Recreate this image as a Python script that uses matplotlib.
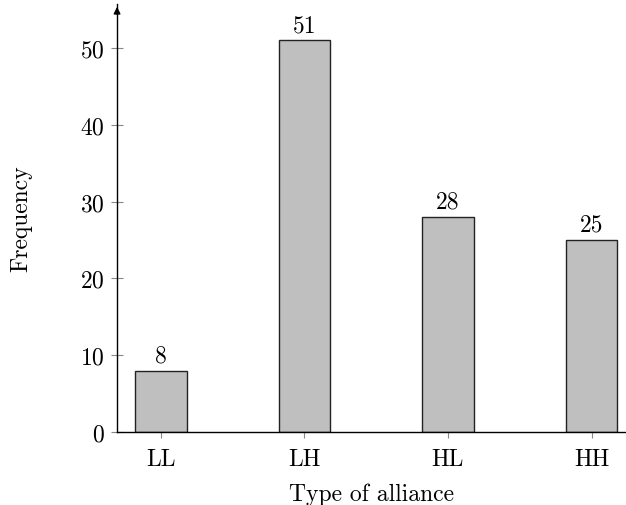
import matplotlib
matplotlib.use("Agg")
import matplotlib.pyplot as plt

categories = ["LL", "LH", "HL", "HH"]
counts = [8, 51, 28, 25]

plt.rcParams["font.family"] = "cmr10"
plt.rcParams["axes.formatter.use_mathtext"] = True
plt.rcParams["font.size"] = 17

fig = plt.figure(figsize=(6.26, 5.06), dpi=100)
ax = fig.add_axes([0.187, 0.144, 0.812, 0.846])

x = list(range(len(categories)))
bars = ax.bar(x, counts, width=0.36, color="#bfbfbf", edgecolor="#222222", linewidth=1.0)
for b, v in zip(bars, counts):
    ax.annotate(str(v), (b.get_x() + b.get_width() / 2, v), xytext=(0, 3),
                textcoords="offset points", ha="center", va="bottom")

ax.set_xlim(-0.306, 3.236)
ax.set_ylim(0, 55.7)
ax.set_yticks([0, 10, 20, 30, 40, 50])
ax.set_xticks(x)
ax.set_xticklabels(categories)

for s in ["top", "right"]:
    ax.spines[s].set_visible(False)
ax.spines["left"].set_linewidth(1.0)
ax.spines["bottom"].set_linewidth(1.0)

ax.tick_params(axis="y", direction="inout", length=8, color="#888888", width=0.8, pad=5)
ax.tick_params(axis="x", direction="out", length=4, color="#888888", width=0.8, pad=7)

# arrow head on the y axis
ax.annotate("", xy=(0, 1.0), xytext=(0, 0.97), xycoords="axes fraction",
            arrowprops=dict(arrowstyle="-|>", color="black", lw=1.0, mutation_scale=10))

ax.set_xlabel("Type of alliance", labelpad=9)
ax.set_ylabel("Frequency", labelpad=34)

fig.savefig("out.png", dpi=100)
